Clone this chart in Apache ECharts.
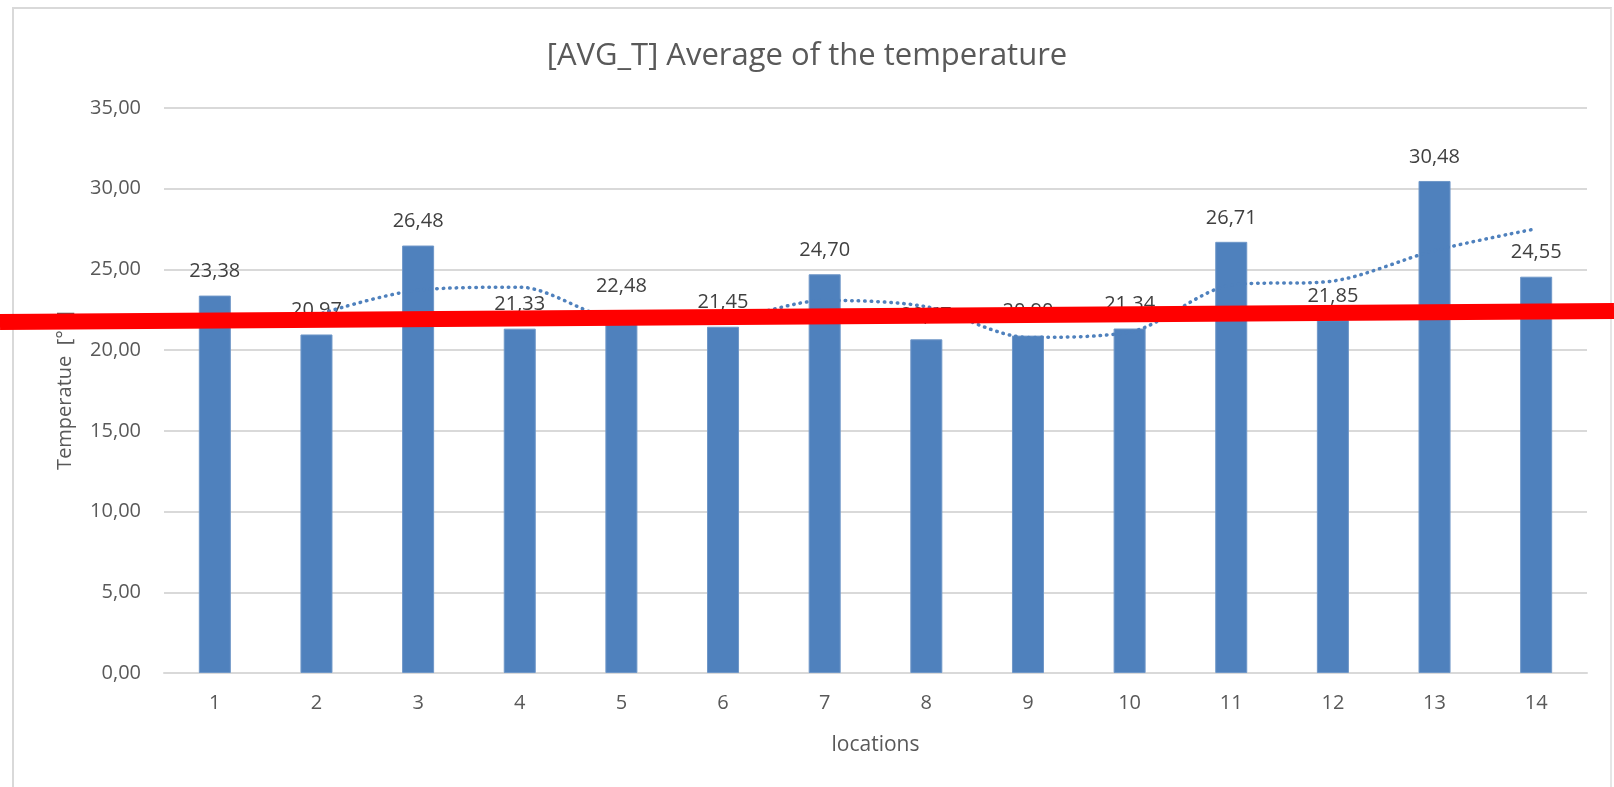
<!DOCTYPE html>
<html>
<head>
<meta charset="utf-8">
<script src="https://cdn.jsdelivr.net/npm/echarts@6/dist/echarts.min.js"></script>
<style>
html,body{margin:0;padding:0;background:#fff;}
#frame{position:absolute;left:12px;top:7px;width:1600px;height:790px;border-left:2px solid #d9d9d9;border-top:2px solid #d9d9d9;border-right:2px solid #e6e6e6;box-sizing:border-box;}
#chart{position:absolute;left:0;top:0;width:1614px;height:787px;}
</style>
</head>
<body>
<div id="frame"></div>
<div id="chart"></div>
<script>
const categories = ['1','2','3','4','5','6','7','8','9','10','11','12','13','14'];
const avgTemperature = [23.38, 20.97, 26.48, 21.33, 22.48, 21.45, 24.70, 20.67, 20.90, 21.34, 26.71, 21.85, 30.48, 24.55];
// 2-period moving average trend line
const trendValues = [null, 22.18, 23.72, 23.90, 21.90, 21.96, 23.08, 22.69, 20.79, 21.12, 24.03, 24.28, 26.17, 27.52];
const yTicks = { min: 0, max: 35, interval: 5 };
const redLineEnds = [21.75, 22.42]; // value at left edge and right edge of the picture

const fmt = v => Number(v).toFixed(2).replace('.', ',');
const font = '"Open Sans", "Noto Sans", sans-serif';

const chart = echarts.init(document.getElementById('chart'), null, { renderer: 'canvas' });
chart.setOption({
  backgroundColor: 'transparent',
  animation: false,
  title: {
    text: '[AVG_T] Average of the temperature',
    left: 'center',
    top: 36,
    textStyle: { fontFamily: font, fontSize: 31, fontWeight: 'normal', color: '#595959' }
  },
  grid: { left: 164, right: 27, top: 108, bottom: 114 },
  xAxis: {
    type: 'category',
    data: categories,
    name: 'locations',
    nameLocation: 'middle',
    nameGap: 62,
    nameTextStyle: { fontFamily: font, fontSize: 21, color: '#595959' },
    axisLine: { lineStyle: { color: '#d9d9d9', width: 2 } },
    axisTick: { show: false },
    axisLabel: { fontFamily: font, fontSize: 20, color: '#595959', margin: 20 }
  },
  yAxis: {
    type: 'value',
    min: yTicks.min, max: yTicks.max, interval: yTicks.interval,
    name: 'Temperatue  [°C]',
    nameLocation: 'middle',
    nameGap: 89,
    nameTextStyle: { fontFamily: font, fontSize: 20, color: '#595959' },
    axisLine: { show: false },
    axisTick: { show: false },
    axisLabel: { fontFamily: font, fontSize: 20, color: '#595959', margin: 23, formatter: fmt },
    splitLine: { lineStyle: { color: '#d9d9d9', width: 2 } }
  },
  series: [
    {
      type: 'bar',
      data: avgTemperature,
      barWidth: '31.5%',
      itemStyle: { color: '#4F81BD', borderColor: '#6f97c8', borderWidth: 1 },
      label: {
        show: true, position: 'top', distance: 14,
        fontFamily: font, fontSize: 20, color: '#404040',
        formatter: p => fmt(p.value)
      },
      z: 2
    },
    {
      type: 'line',
      data: trendValues,
      smooth: 0.3,
      symbol: 'none',
      connectNulls: false,
      lineStyle: { color: '#4F81BD', width: 3.5, type: [0.5, 6], cap: 'round' },
      z: 3
    }
  ]
});

function drawRedLine() {
  const w = chart.getWidth();
  const y0 = chart.convertToPixel({ yAxisIndex: 0 }, redLineEnds[0]);
  const y1 = chart.convertToPixel({ yAxisIndex: 0 }, redLineEnds[1]);
  chart.setOption({
    graphic: [{
      type: 'line',
      z: 100,
      shape: { x1: 0, y1: y0, x2: w, y2: y1 },
      style: { stroke: '#ff0000', lineWidth: 16 }
    }]
  });
}
drawRedLine();
</script>
</body>
</html>
